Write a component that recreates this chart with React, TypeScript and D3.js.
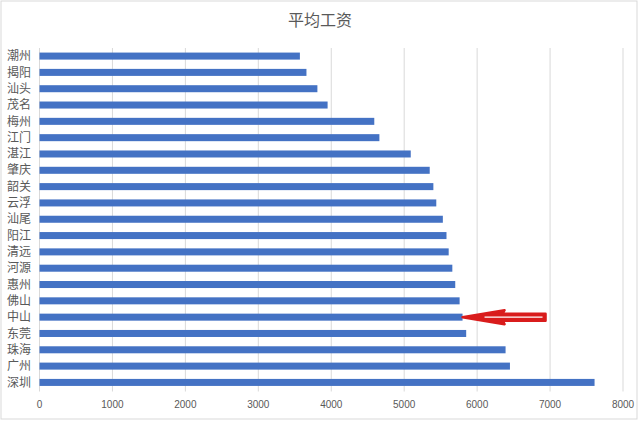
import { useMemo } from "react";
import * as d3 from "d3";

const cities = [
  "潮州", "揭阳", "汕头", "茂名", "梅州", "江门", "湛江", "肇庆", "韶关", "云浮", "汕尾",
  "阳江", "清远", "河源", "惠州", "佛山", "中山", "东莞", "珠海", "广州", "深圳",
];
const wages = [
  3570, 3660, 3810, 3950, 4590, 4660, 5090, 5350, 5400, 5440, 5530,
  5580, 5610, 5660, 5700, 5760, 5800, 5850, 6390, 6450, 7610,
];
const ticks = [0, 1000, 2000, 3000, 4000, 5000, 6000, 7000, 8000];
const highlight = "中山";

const W = 640;
const H = 421;
const M = { top: 48, right: 17, bottom: 30.5, left: 39.5 };

export default function App() {
  const x = useMemo(() => d3.scaleLinear().domain([0, 8000]).range([M.left, W - M.right]), []);
  const y = useMemo(
    () => d3.scaleBand<string>().domain(cities).range([M.top, H - M.bottom]).paddingInner(0.57).paddingOuter(0.28),
    []
  );

  // arrow pointing at the highlighted bar
  const hy = (y(highlight) ?? 0) + y.bandwidth() / 2;
  const hx = x(wages[cities.indexOf(highlight)]);
  const arrow = d3.path();
  arrow.moveTo(hx, hy);
  arrow.lineTo(hx + 42, hy - 7);
  arrow.lineTo(hx + 40, hy - 3.5);
  arrow.lineTo(hx + 83, hy - 3.5);
  arrow.lineTo(hx + 83, hy + 3.5);
  arrow.lineTo(hx + 40, hy + 3.5);
  arrow.lineTo(hx + 42, hy + 7);
  arrow.closePath();

  return (
    <svg width={W} height={H} style={{ position: "absolute", left: 0, top: 0, background: "#fff" }}>
      <rect x={1} y={1} width={W - 4} height={H - 3} fill="#fff" stroke="#d9d9d9" />
      <text
        x={W / 2}
        y={26}
        textAnchor="middle"
        fill="#595959"
        style={{ fontSize: 16, fontFamily: "'Noto Sans CJK SC', sans-serif" }}
      >
        平均工资
      </text>
      {ticks.map((t) => (
        <g key={t}>
          <line x1={x(t)} x2={x(t)} y1={M.top} y2={H - M.bottom + 1} stroke="#d9d9d9" />
          <text
            x={x(t)}
            y={408}
            textAnchor="middle"
            fill="#595959"
            style={{ fontSize: 10, fontFamily: "'Liberation Sans', sans-serif" }}
          >
            {t}
          </text>
        </g>
      ))}
      {cities.map((c, i) => (
        <g key={c}>
          <rect x={x(0)} y={y(c)} width={x(wages[i]) - x(0)} height={y.bandwidth()} fill="#4472c4" />
          <text
            x={31}
            y={(y(c) ?? 0) + y.bandwidth() / 2}
            dy="0.35em"
            textAnchor="end"
            fill="#595959"
            style={{ fontSize: 12, fontFamily: "'Noto Sans CJK SC', sans-serif" }}
          >
            {c}
          </text>
        </g>
      ))}
      <path d={arrow.toString()} fill="#d91c1c" stroke="#d91c1c" strokeWidth={2.5} strokeLinejoin="round" />
      <line x1={hx + 22} x2={hx + 80} y1={hy} y2={hy} stroke="#fff" strokeWidth={1.2} />
    </svg>
  );
}
